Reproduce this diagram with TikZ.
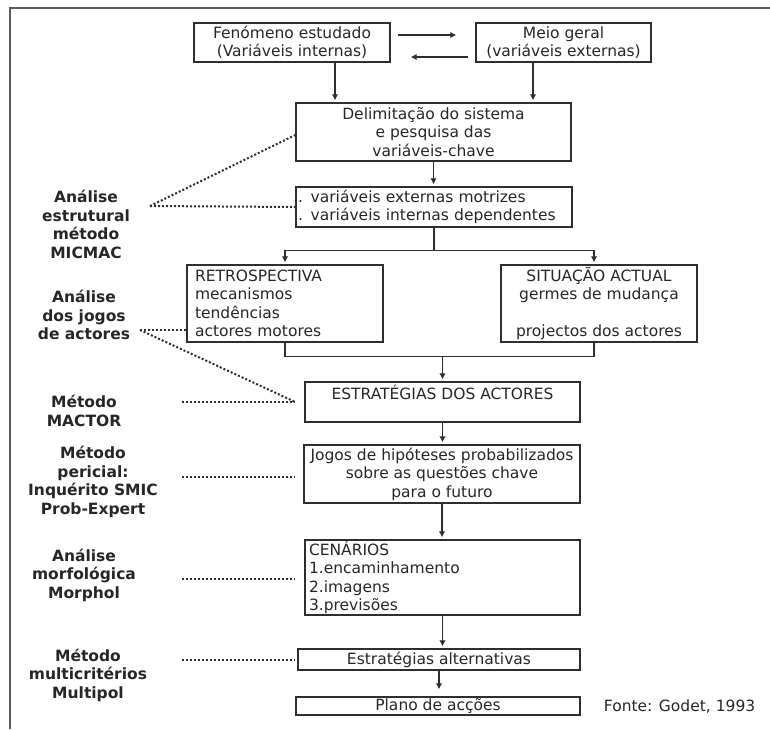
\documentclass[tikz,border=0pt]{standalone}
\usepackage{fontspec}
\setmainfont{DejaVu Sans}
\usepackage{xcolor}
\usepackage{tikz}
\usetikzlibrary{positioning, calc, arrows.meta}
\definecolor{linegray}{HTML}{2E2E2E}
\definecolor{framegray}{HTML}{5A5A5A}
\newcommand{\boxfont}{\fontsize{15.5pt}{18.5pt}\selectfont}

\begin{document}
\begin{tikzpicture}[x=1pt, y=-1pt, >={Latex[length=6pt,width=6.5pt]},
	box/.style={draw=linegray, line width=1.4pt, text=black!85, font=\boxfont, align=center, inner sep=0pt},
	boxl/.style={box, align=left},
	method/.style={font=\boxfont\bfseries, align=center, text=black!85, inner sep=0pt},
	arr/.style={->, draw=linegray, line width=1.4pt, shorten >=2pt},
	link/.style={draw=linegray, line width=1.4pt},
	dots/.style={draw=linegray, line width=2pt, dash pattern=on 2pt off 2pt}]
\useasboundingbox (0,0) rectangle (770,729);
\draw[framegray, line width=2pt] (770,8) -- (10,8) -- (10,729);

% main chain
\node[box, minimum width=196pt, minimum height=39pt] (fen) at (292,42.5) {Fenómeno estudado\\(Variáveis internas)};
\node[box, minimum width=175pt, minimum height=39pt] (meio) at (563.5,42.5) {Meio geral\\(variáveis externas)};
\node[box, minimum width=275pt, minimum height=58pt] (delim) at (433.5,132) {Delimitação do sistema\\e pesquisa das\\variáveis-chave};
\node[boxl, text width=272pt, inner xsep=2pt, minimum height=40pt] (var) at (434,207) {. variáveis externas motrizes\\. variáveis internas dependentes};
\node[boxl, text width=180pt, inner xsep=8pt, minimum height=77pt] (retro) at (285,303.5) {RETROSPECTIVA\\mecanismos\\tendências\\actores motores};
\node[box, minimum width=196pt, minimum height=77pt] (sit) at (599,303.5) {SITUAÇÃO ACTUAL\\germes de mudança\\\mbox{}\\projectos dos actores};
\node[box, minimum width=275pt, minimum height=40pt] (estr) at (442.5,402) {ESTRATÉGIAS DOS ACTORES\\\mbox{}};
\node[box, minimum width=276pt, minimum height=58pt] (jogos) at (442,474) {Jogos de hipóteses probabilizados\\sobre as questões chave\\para o futuro};
\node[boxl, text width=267pt, inner xsep=4pt, minimum height=75pt] (cen) at (442.5,577.5) {CENÁRIOS\\1.encaminhamento\\2.imagens\\3.previsões};
\node[box, minimum width=282pt, minimum height=21pt] (alt) at (439,659.5) {Estratégias alternativas};
\node[box, minimum width=284pt, minimum height=18pt] (plano) at (438,706) {Plano de acções};
\node[right=23pt of plano, font=\boxfont, text=black!85, inner sep=0pt] (fonte) {Fonte: Godet, 1993};

% methods
\node[method] (micmac) at (86,224.5) {Análise\\estrutural\\método\\MICMAC};
\node[method] (jogosact) at (84,315) {Análise\\dos jogos\\de actores};
\node[method] (mactor) at (84,411) {Método\\MACTOR};
\node[method] (smic) at (93,482) {Método\\pericial:\\Inquérito SMIC\\Prob-Expert};
\node[method] (morphol) at (84,575) {Análise\\morfológica\\Morphol};
\node[method] (multipol) at (88,675) {Método\\multicritérios\\Multipol};

% arrows
\coordinate (f1) at ([xshift=43pt]fen.south);
\coordinate (m1) at ([xshift=-30.5pt]meio.south);
\coordinate (split) at ($(var.south)+(0,23)$);
\coordinate (join) at ($(estr.north)+(0,-25)$);
\coordinate (s1) at ([xshift=-5pt]sit.north);
\coordinate (s2) at ([xshift=-5pt]sit.south);
\draw[arr] ([xshift=7pt,yshift=7.5pt]fen.east) -- ([xshift=-17pt,yshift=7.5pt]meio.west);
\draw[arr] ([xshift=-7pt,yshift=-14.5pt]meio.west) -- ([xshift=18pt,yshift=-14.5pt]fen.east);
\draw[arr] (f1) -- (f1 |- delim.north);
\draw[arr] (m1) -- (m1 |- delim.north);
\draw[arr] (delim.south) -- (delim.south |- var.north);
\draw[link] (var.south) -- (split);
\draw[arr] (split) -| (retro.north);
\draw[arr] (split) -| (s1);
\draw[link] (retro.south) |- (join) -| (s2);
\draw[arr] (join) -- (estr.north);
\draw[arr] (estr.south) -- (estr.south |- jogos.north);
\draw[arr] (jogos.south) -- (jogos.south |- cen.north);
\draw[arr] (cen.south) -- (cen.south |- alt.north);
\draw[arr, shorten >=7pt] (alt.south) -- (alt.south |- plano.north);

% dotted links
\coordinate (d1) at (150,206);
\coordinate (d2) at (140,330);
\coordinate (d3) at (182,402);
\coordinate (d4) at (182,477);
\coordinate (d5) at (182,579);
\coordinate (d6) at (182,660);
\draw[dots] (d1) -- ([yshift=-3pt]delim.west);
\draw[dots] (d1) -- (var.west);
\draw[dots] (d2) -- (d2 -| retro.west);
\draw[dots] (d2) -- (estr.west -| delim.west);
\foreach \d in {d3,d4,d5,d6}
	\draw[dots] (\d) -- (\d -| delim.west);
\end{tikzpicture}
\end{document}
